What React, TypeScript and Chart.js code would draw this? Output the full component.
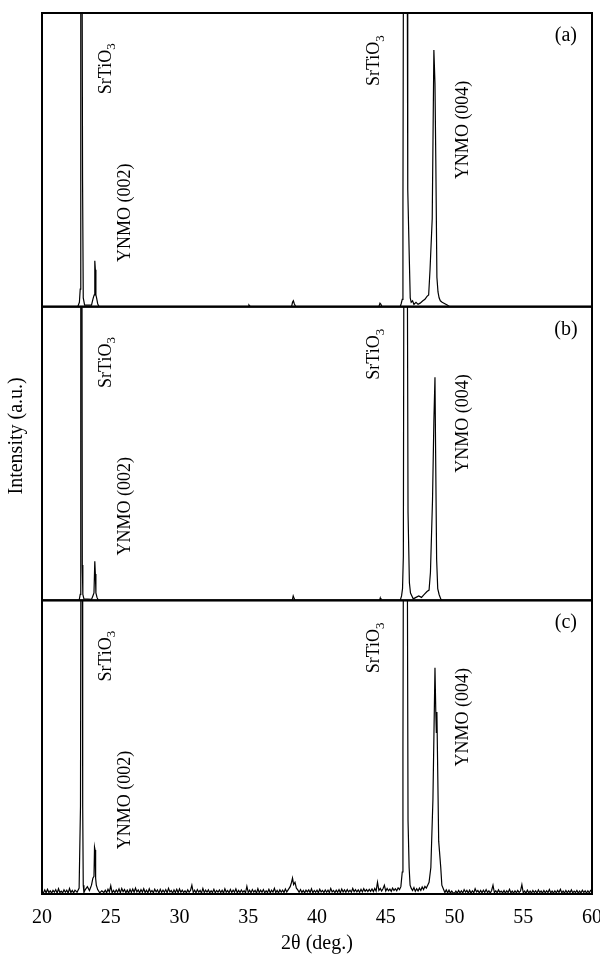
import React, { useEffect, useRef } from 'react';
import { Chart, registerables } from 'chart.js';

Chart.register(...registerables);

const FONT = '"Liberation Serif", "Times New Roman", serif';

// x axis ticks (2θ, degrees)
const xTicks = [20, 25, 30, 35, 40, 45, 50, 55, 60];
const panelNames = ['(a)', '(b)', '(c)'];

// Panel (a): [2θ, intensity % of panel]
const panelA: [number, number][] = [
  [20, 0], [22.6, 0], [22.72, 1.5], [22.78, 6], [22.82, 150], [22.9, 150], [22.95, 43], [23.0, 3], [23.1, 0.5],
  [23.6, 0.5], [23.7, 2.5], [23.76, 3.5], [23.8, 4], [23.84, 15.6], [23.88, 12.6], [23.92, 4], [23.97, 3], [24.05, 1], [24.15, 0],
  [35.0, 0], [35.05, 0.6], [35.15, 0],
  [38.15, 0], [38.22, 1.5], [38.28, 2], [38.35, 1], [38.45, 0],
  [44.5, 0], [44.58, 1.2], [44.65, 0.8], [44.72, 0],
  [46.05, 0], [46.12, 1], [46.2, 2.5], [46.25, 34], [46.3, 150], [46.55, 150], [46.6, 40], [46.72, 15], [46.78, 3],
  [46.85, 1.5], [46.95, 2], [47.05, 0.8], [47.2, 1.5], [47.35, 0.8], [47.5, 1.2], [47.7, 2], [47.85, 2.5], [48.0, 3.5],
  [48.12, 4], [48.22, 12.6], [48.38, 30], [48.5, 87.4], [48.58, 76], [48.64, 50], [48.72, 10], [48.8, 5], [48.88, 3],
  [48.97, 2], [49.1, 1.5], [49.3, 1], [49.5, 0.5], [49.65, 0], [60, 0],
];

// Panel (b)
const panelB: [number, number][] = [
  [20, 0], [22.7, 0], [22.78, 2], [22.82, 150], [22.9, 150], [22.93, 12], [22.97, 2], [23.05, 0.5],
  [23.6, 0.3], [23.7, 1.5], [23.78, 2.5], [23.84, 13.3], [23.88, 9], [23.92, 2.5], [24.0, 1], [24.1, 0],
  [38.2, 0], [38.27, 1.5], [38.35, 0.5], [38.4, 0],
  [44.55, 0], [44.6, 0.8], [44.65, 0],
  [46.05, 0], [46.15, 1.5], [46.22, 4], [46.28, 15], [46.33, 150], [46.55, 150], [46.62, 30], [46.72, 6], [46.8, 2.5],
  [46.9, 1.5], [47.0, 0.5], [47.2, 1], [47.4, 1.5], [47.6, 1], [47.8, 2], [48.0, 3], [48.15, 3.5], [48.25, 9.5],
  [48.4, 34], [48.5, 61], [48.58, 76], [48.62, 54], [48.7, 14], [48.78, 4], [48.88, 2], [49.0, 0.5], [49.1, 0], [60, 0],
];

// Panel (c)
const panelC: [number, number][] = [
  [20.0, 1.0], [20.1, 0.3], [20.2, 1.4], [20.3, 0.4], [20.4, 1.6], [20.5, 0.5], [20.6, 1.1], [20.7, 0.3], [20.8, 1.2],
  [20.9, 0.6], [21.0, 1.5], [21.1, 0.3], [21.2, 1.8], [21.3, 0.5], [21.4, 1.0], [21.5, 0.4], [21.6, 1.4], [21.7, 0.6],
  [21.8, 1.3], [21.9, 0.3], [22.0, 1.9], [22.1, 0.5], [22.2, 1.2], [22.3, 0.4], [22.4, 1.3], [22.55, 0.6],
  [22.7, 2], [22.8, 30], [22.84, 150], [22.92, 150], [22.96, 30], [23.0, 3], [23.05, 0.5],
  [23.15, 1.5], [23.3, 2.5], [23.45, 1.2], [23.6, 3], [23.7, 5.4], [23.78, 6], [23.82, 16], [23.86, 15], [23.9, 5.4],
  [23.95, 3], [24.05, 1.5], [24.2, 0.4], [24.35, 1.1],
  [24.5, 0.5], [24.6, 1.3], [24.7, 0.4], [24.8, 1.6], [24.9, 0.7], [25.0, 2.8], [25.1, 0.4], [25.2, 1.2], [25.3, 0.5],
  [25.4, 1.4], [25.5, 0.6], [25.6, 1.7], [25.7, 0.4], [25.8, 1.9], [25.9, 0.8], [26.0, 1.5], [26.1, 0.4], [26.2, 1.3],
  [26.3, 0.3], [26.4, 1.6], [26.5, 0.5], [26.6, 1.7], [26.7, 0.6], [26.8, 2.0], [26.9, 0.7], [27.0, 1.4], [27.1, 0.4],
  [27.2, 1.5], [27.3, 0.6], [27.4, 1.8], [27.5, 0.5], [27.6, 1.3], [27.7, 0.4], [27.8, 1.8], [27.9, 0.6], [28.0, 1.2],
  [28.1, 0.4], [28.2, 1.6], [28.3, 0.7], [28.4, 1.4], [28.5, 0.3], [28.6, 1.6], [28.7, 0.5], [28.8, 1.3], [28.9, 0.6],
  [29.0, 1.5], [29.1, 0.4], [29.2, 1.9], [29.3, 0.7], [29.4, 1.2], [29.5, 0.3], [29.6, 1.4], [29.7, 0.5], [29.8, 1.6],
  [29.9, 0.4], [30.0, 1.7], [30.1, 0.6], [30.2, 1.3], [30.3, 0.5], [30.4, 1.1], [30.5, 0.4], [30.6, 1.4], [30.7, 0.6],
  [30.8, 1.2], [30.9, 3.0], [31.0, 0.5], [31.1, 1.3], [31.2, 0.4], [31.3, 1.5], [31.4, 0.6], [31.5, 1.2], [31.6, 0.3],
  [31.7, 1.9], [31.8, 0.5], [31.9, 1.3], [32.0, 0.6], [32.1, 1.4], [32.2, 0.4], [32.3, 1.1], [32.4, 0.5], [32.5, 1.6],
  [32.6, 0.4], [32.7, 1.2], [32.8, 0.6], [32.9, 1.4], [33.0, 0.5], [33.1, 1.3], [33.2, 0.3], [33.3, 1.8], [33.4, 0.6],
  [33.5, 1.2], [33.6, 0.4], [33.7, 1.5], [33.8, 0.5], [33.9, 1.3], [34.0, 0.6], [34.1, 1.7], [34.2, 0.4], [34.3, 1.2],
  [34.4, 0.5], [34.5, 1.4], [34.6, 0.6], [34.7, 1.1], [34.8, 0.4], [34.9, 2.6], [35.0, 0.5], [35.1, 1.3], [35.2, 0.4],
  [35.3, 1.5], [35.4, 0.6], [35.5, 1.2], [35.6, 0.3], [35.7, 1.8], [35.8, 0.5], [35.9, 1.3], [36.0, 0.6], [36.1, 1.5],
  [36.2, 0.4], [36.3, 1.1], [36.4, 0.5], [36.5, 1.6], [36.6, 0.4], [36.7, 1.3], [36.8, 0.6], [36.9, 1.9], [37.0, 0.5],
  [37.1, 1.2], [37.2, 0.4], [37.3, 1.4], [37.4, 0.6], [37.5, 1.3], [37.6, 0.5], [37.7, 1.7], [37.8, 0.7], [37.9, 1.4],
  [38.05, 2.5], [38.15, 4.0], [38.22, 5.4], [38.3, 3.2], [38.4, 4.0], [38.5, 2.0], [38.6, 1.4], [38.7, 0.6], [38.8, 1.5],
  [38.9, 0.5], [39.0, 1.2], [39.1, 0.4], [39.2, 1.3], [39.3, 0.7], [39.4, 1.4], [39.5, 0.5], [39.6, 1.8], [39.7, 0.4],
  [39.8, 1.2], [39.9, 0.6], [40.0, 1.3], [40.1, 0.4], [40.2, 1.6], [40.3, 0.7], [40.4, 1.2], [40.5, 0.5], [40.6, 1.4],
  [40.7, 0.6], [40.8, 1.3], [40.9, 0.5], [41.0, 1.9], [41.1, 0.7], [41.2, 1.2], [41.3, 0.5], [41.4, 1.3], [41.5, 0.6],
  [41.6, 1.5], [41.7, 0.4], [41.8, 1.7], [41.9, 0.7], [42.0, 1.4], [42.1, 0.6], [42.2, 1.5], [42.3, 0.7], [42.4, 1.3],
  [42.5, 0.6], [42.6, 1.9], [42.7, 0.8], [42.8, 1.5], [42.9, 0.7], [43.0, 1.4], [43.1, 0.6], [43.2, 1.6], [43.3, 0.7],
  [43.4, 1.8], [43.5, 0.9], [43.6, 1.5], [43.7, 0.8], [43.8, 1.6], [43.9, 0.9], [44.0, 1.7], [44.1, 0.8], [44.2, 1.9],
  [44.3, 1.0], [44.4, 4.0], [44.5, 1.2], [44.6, 1.9], [44.7, 1.0], [44.8, 1.8], [44.9, 3.0], [45.0, 1.0], [45.1, 1.9],
  [45.2, 1.1], [45.3, 1.7], [45.4, 0.9], [45.5, 2.0], [45.6, 1.2], [45.7, 1.8], [45.8, 1.1], [45.9, 2.1], [46.0, 1.5],
  [46.1, 2.5], [46.2, 7.5], [46.25, 50], [46.3, 150], [46.55, 150], [46.62, 25], [46.7, 9], [46.77, 3], [46.85, 2.0],
  [46.95, 1.2], [47.05, 2.2], [47.15, 0.9], [47.25, 1.8], [47.35, 1.0], [47.45, 2.0], [47.55, 1.2], [47.65, 2.4],
  [47.75, 1.5], [47.85, 2.6], [47.95, 2.0], [48.05, 3.0], [48.15, 4.0], [48.28, 9], [48.43, 32], [48.58, 77], [48.64, 62],
  [48.68, 55], [48.72, 62], [48.85, 18], [49.0, 9], [49.08, 3], [49.2, 1.6], [49.3, 0.5], [49.4, 1.4], [49.5, 0.4],
  [49.6, 1.3], [49.7, 0.3], [49.8, 1.0], [49.9, 0.4], [50.0, 0.2], [50.1, 1.0], [50.2, 0.3], [50.3, 1.2], [50.4, 0.4],
  [50.5, 1.1], [50.6, 0.3], [50.7, 1.5], [50.8, 0.6], [50.9, 1.2], [51.0, 0.3], [51.1, 1.3], [51.2, 0.3], [51.3, 1.1],
  [51.4, 0.4], [51.5, 1.8], [51.6, 0.7], [51.7, 1.2], [51.8, 0.4], [51.9, 1.2], [52.0, 0.4], [52.1, 1.3], [52.2, 0.5],
  [52.3, 1.5], [52.4, 0.5], [52.5, 1.1], [52.6, 0.3], [52.7, 1.2], [52.8, 3.0], [52.9, 0.5], [53.0, 1.1], [53.1, 0.4],
  [53.2, 1.4], [53.3, 0.6], [53.4, 1.0], [53.5, 0.4], [53.6, 1.2], [53.7, 0.3], [53.8, 1.1], [53.9, 0.5], [54.0, 1.6],
  [54.1, 0.4], [54.2, 1.0], [54.3, 0.3], [54.4, 1.1], [54.5, 0.4], [54.6, 1.2], [54.7, 0.5], [54.8, 1.0], [54.9, 3.2],
  [55.0, 0.4], [55.1, 1.0], [55.2, 0.3], [55.3, 1.3], [55.4, 0.4], [55.5, 1.0], [55.6, 0.3], [55.7, 1.2], [55.8, 0.5],
  [55.9, 1.1], [56.0, 0.3], [56.1, 1.4], [56.2, 0.5], [56.3, 1.0], [56.4, 0.3], [56.5, 1.2], [56.6, 0.4], [56.7, 1.1],
  [56.8, 0.5], [56.9, 1.5], [57.0, 0.4], [57.1, 1.0], [57.2, 0.3], [57.3, 1.1], [57.4, 0.4], [57.5, 1.2], [57.6, 0.5],
  [57.7, 1.6], [57.8, 0.4], [57.9, 1.0], [58.0, 0.3], [58.1, 1.2], [58.2, 0.4], [58.3, 1.1], [58.4, 0.5], [58.5, 1.4],
  [58.6, 0.4], [58.7, 1.0], [58.8, 0.5], [58.9, 1.2], [59.0, 0.3], [59.1, 1.0], [59.2, 0.4], [59.3, 1.3], [59.4, 0.5],
  [59.5, 1.1], [59.6, 0.3], [59.7, 1.1], [59.8, 0.4], [59.9, 1.2], [60, 0.8],
];

const panels = [panelA, panelB, panelC];
const panelIds = ['yA', 'yB', 'yC'];

// Peak annotations (same in every panel): text, subscript, 2θ position, % height of panel
const annotText = ['SrTiO', 'YNMO (002)', 'SrTiO', 'YNMO (004)'];
const annotSub = ['3', '', '3', ''];
const annotX = [24.65, 26.07, 44.18, 50.65];
const annotY = [81, 32, 83.8, 60.2];

const panelLabelX = 58.1;
const panelLabelY = 92.3;

const overlayPlugin = {
  id: 'overlay',
  beforeDatasetDraw(chart: any, args: any) {
    const ys = chart.scales[args.meta.yAxisID];
    const xs = chart.scales.x;
    const ctx = chart.ctx;
    ctx.save();
    ctx.beginPath();
    ctx.rect(xs.left, ys.top, xs.right - xs.left, ys.bottom - ys.top);
    ctx.clip();
  },
  afterDatasetDraw(chart: any) {
    chart.ctx.restore();
  },
  afterDraw(chart: any) {
    const ctx = chart.ctx;
    const xs = chart.scales.x;
    ctx.save();
    ctx.strokeStyle = '#000';
    ctx.lineWidth = 2;
    panelIds.forEach((id) => {
      const ys = chart.scales[id];
      ctx.strokeRect(xs.left, ys.top, xs.right - xs.left, ys.bottom - ys.top);
    });
    ctx.fillStyle = '#000';
    panelIds.forEach((id, i) => {
      const ys = chart.scales[id];
      ctx.font = `20px ${FONT}`;
      ctx.textAlign = 'center';
      ctx.textBaseline = 'middle';
      ctx.fillText(panelNames[i], xs.getPixelForValue(panelLabelX), ys.getPixelForValue(panelLabelY));
      annotText.forEach((t, k) => {
        const px = xs.getPixelForValue(annotX[k]);
        const py = ys.getPixelForValue(annotY[k]);
        ctx.save();
        ctx.translate(px, py);
        ctx.rotate(-Math.PI / 2);
        ctx.textAlign = 'left';
        ctx.textBaseline = 'middle';
        ctx.font = `18px ${FONT}`;
        const w = ctx.measureText(t).width;
        let ws = 0;
        if (annotSub[k]) {
          ctx.font = `13px ${FONT}`;
          ws = ctx.measureText(annotSub[k]).width;
        }
        const start = -(w + ws) / 2;
        ctx.font = `18px ${FONT}`;
        ctx.fillText(t, start, 0);
        if (annotSub[k]) {
          ctx.font = `13px ${FONT}`;
          ctx.fillText(annotSub[k], start + w, 6);
        }
        ctx.restore();
      });
    });
    // y axis title
    const yb = chart.scales.yB;
    ctx.save();
    ctx.translate(17, yb.getPixelForValue(56));
    ctx.rotate(-Math.PI / 2);
    ctx.font = `20px ${FONT}`;
    ctx.textAlign = 'center';
    ctx.textBaseline = 'middle';
    ctx.fillText('Intensity (a.u.)', 0, 0);
    ctx.restore();
    ctx.restore();
  },
};

export default function App() {
  const ref = useRef<HTMLCanvasElement | null>(null);
  useEffect(() => {
    if (!ref.current) return;
    const yScale = () => ({
      type: 'linear',
      position: 'right',
      stack: 'panels',
      stackWeight: 1,
      min: 0,
      max: 100,
      display: false,
    });
    const chart = new Chart(ref.current, {
      type: 'line',
      data: {
        datasets: panels.map((p, i) => ({
          data: p.map(([x, y]) => ({ x, y })),
          yAxisID: panelIds[i],
          borderColor: '#000',
          borderWidth: 1.2,
          pointRadius: 0,
          tension: 0,
          fill: false,
        })),
      },
      options: {
        responsive: false,
        devicePixelRatio: 1,
        animation: false,
        events: [],
        layout: { padding: { left: 42, right: 8, top: 13, bottom: 0 } },
        plugins: { legend: { display: false }, tooltip: { enabled: false } },
        scales: {
          x: {
            type: 'linear',
            position: 'bottom',
            min: 20,
            max: 60,
            grid: { display: false, drawTicks: false, tickLength: 0 },
            border: { display: false },
            afterBuildTicks: (s: any) => {
              s.ticks = xTicks.map((v) => ({ value: v }));
            },
            afterFit: (s: any) => {
              s.paddingLeft = 0;
              s.paddingRight = 0;
              s.height = 62;
            },
            ticks: {
              autoSkip: false,
              maxRotation: 0,
              padding: 12,
              color: '#000',
              font: { family: FONT, size: 20 },
              callback: (v: any) => String(v),
            },
            title: {
              display: true,
              text: '2θ (deg.)',
              color: '#000',
              font: { family: FONT, size: 20 },
              padding: { top: 2, bottom: 0 },
            },
          },
          yA: yScale(),
          yB: yScale(),
          yC: yScale(),
        } as any,
      },
      plugins: [overlayPlugin],
    } as any);
    return () => chart.destroy();
  }, []);
  return (
    <div style={{ position: 'absolute', left: 0, top: 0, width: 600, height: 956, background: '#fff' }}>
      <canvas ref={ref} width={600} height={956} style={{ display: 'block' }} />
    </div>
  );
}
